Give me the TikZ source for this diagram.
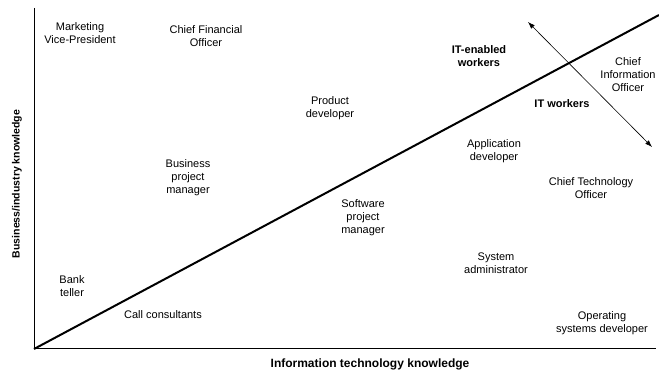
\documentclass[tikz,border=0pt]{standalone}
\usepackage{fontspec}
\setmainfont{Liberation Sans}
\usetikzlibrary{arrows.meta}
\begin{document}
\begin{tikzpicture}[x=1pt,y=-1pt,
  lbl/.style={align=center,inner sep=0pt,font=\fontsize{11}{13}\selectfont},
  blbl/.style={lbl,font=\fontsize{11}{13}\selectfont\bfseries},
  axis/.style={line width=1pt},
  divider/.style={line width=2pt},
  dirarrow/.style={line width=0.6pt,{Latex[length=7pt,width=5pt]}-{Latex[length=7pt,width=5pt]}}]
\useasboundingbox (0,0) rectangle (659,371);
\coordinate (o) at (34,349);
\coordinate (ytop) at (34,8);
\coordinate (xend) at (656,349);
\coordinate (dend) at (659,15);
\coordinate (a1) at (528,22);
\coordinate (a2) at (652,147);
\draw[axis] (ytop) -- (o) -- (xend);
\draw[divider] (o) -- (dend);
\draw[dirarrow] (a1) -- (a2);
\node[lbl] (mvp) at (80,33) {Marketing\\Vice-President};
\node[lbl] (cfo) at (206,36) {Chief Financial\\Officer};
\node[lbl] (pd) at (330,108) {Product\\developer};
\node[lbl] (bpm) at (188,178) {Business\\project\\manager};
\node[blbl] (ite) at (479,56) {IT-enabled\\workers};
\node[lbl] (cio) at (628,75) {Chief\\Information\\Officer};
\node[blbl] (itw) at (562,104) {IT workers};
\node[lbl] (ad) at (494,151) {Application\\developer};
\node[lbl] (cto) at (591,188) {Chief Technology\\Officer};
\node[lbl] (spm) at (363,218) {Software\\project\\manager};
\node[lbl] (sa) at (496,263) {System\\administrator};
\node[lbl] (osd) at (602,323) {Operating\\systems developer};
\node[lbl] (bt) at (72,286) {Bank\\teller};
\node[lbl] (cc) at (163,315) {Call consultants};
\node[blbl,font=\fontsize{12}{14}\selectfont\bfseries] (xl) at (370,364) {Information technology knowledge};
\node[blbl,rotate=90,font=\fontsize{10.5}{13}\selectfont\bfseries] (yl) at (17,184) {Business/industry knowledge};
\end{tikzpicture}
\end{document}
